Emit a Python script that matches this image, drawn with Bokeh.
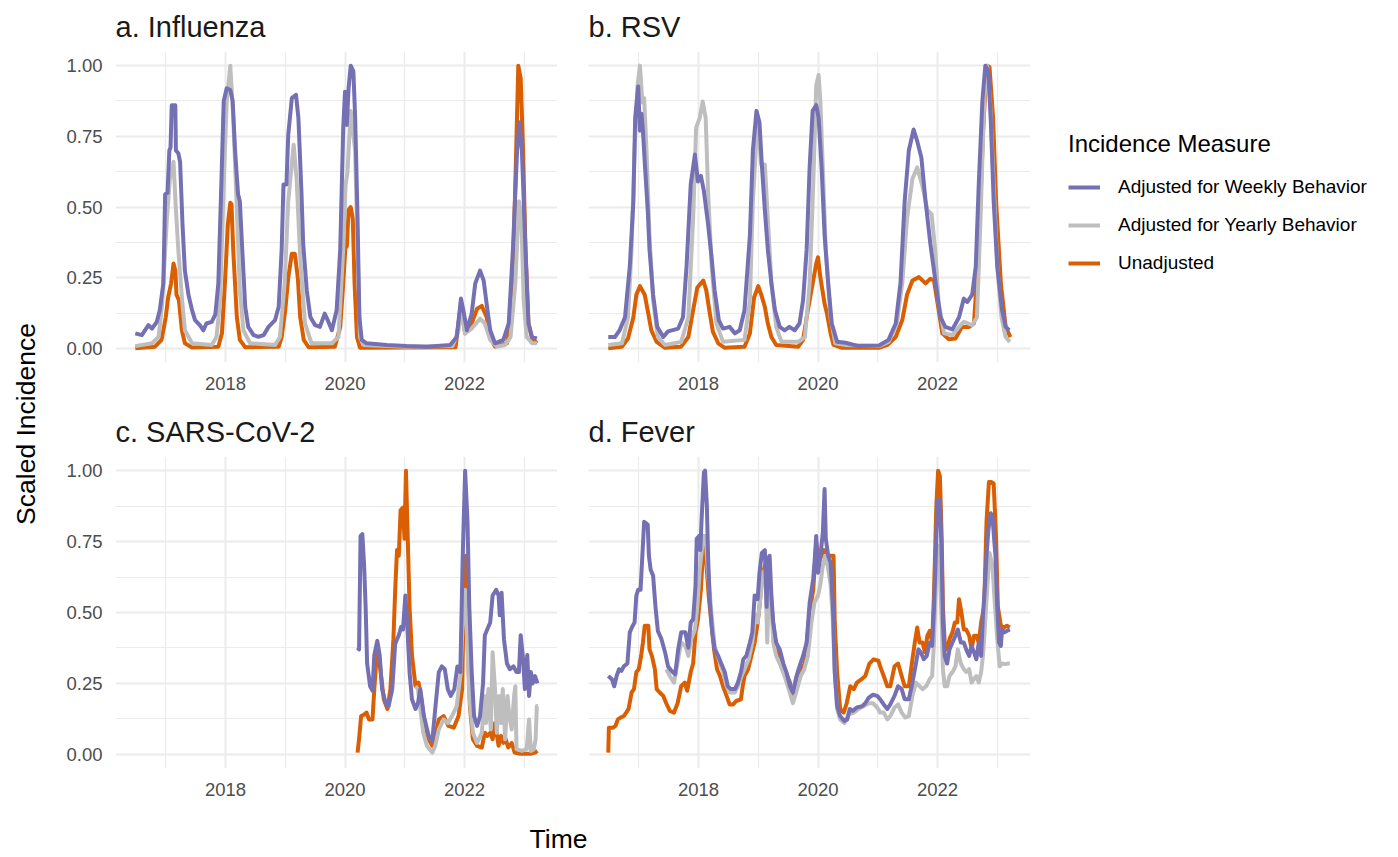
import math
from bokeh.plotting import figure
from bokeh.models import Range1d, FixedTicker, NumeralTickFormatter, Label, Legend, LegendItem
from bokeh.layouts import row, column
from bokeh.embed import file_html
from bokeh.resources import INLINE

FONT = "Liberation Sans"
C_WEEK = "#7570B3"
C_YEAR = "#BEBEBE"
C_UNADJ = "#D95F02"

panel_titles = ["a. Influenza", "b. RSV", "c. SARS-CoV-2", "d. Fever"]
series_labels = ["Adjusted for Weekly Behavior", "Adjusted for Yearly Behavior", "Unadjusted"]
x_ticks = [2018, 2020, 2022]
x_minor = [2017, 2019, 2021, 2023]
y_ticks = [0.0, 0.25, 0.5, 0.75, 1.0]
y_minor = [0.125, 0.375, 0.625, 0.875]

# ---------------- a. Influenza ----------------
flu_weekly = [(2016.49,0.053),(2016.60,0.047),(2016.71,0.082),(2016.77,0.070),(2016.85,0.094),(2016.90,0.135),(2016.96,0.23),(2016.99,0.545),(2017.03,0.55),(2017.06,0.70),(2017.08,0.71),(2017.10,0.86),(2017.16,0.86),(2017.17,0.70),(2017.21,0.69),(2017.24,0.66),(2017.28,0.44),(2017.32,0.275),(2017.38,0.19),(2017.44,0.135),(2017.49,0.10),(2017.57,0.082),(2017.63,0.064),(2017.68,0.088),(2017.77,0.094),(2017.83,0.12),(2017.88,0.23),(2017.93,0.58),(2017.97,0.875),(2018.02,0.92),(2018.08,0.914),(2018.12,0.875),(2018.16,0.70),(2018.21,0.545),(2018.24,0.52),(2018.28,0.35),(2018.33,0.147),(2018.38,0.076),(2018.47,0.047),(2018.55,0.041),(2018.64,0.047),(2018.72,0.076),(2018.83,0.10),(2018.89,0.147),(2018.94,0.35),(2018.97,0.58),(2019.02,0.58),(2019.05,0.755),(2019.11,0.885),(2019.18,0.897),(2019.22,0.815),(2019.27,0.557),(2019.30,0.37),(2019.36,0.205),(2019.42,0.111),(2019.50,0.082),(2019.58,0.076),(2019.66,0.123),(2019.71,0.10),(2019.78,0.064),(2019.86,0.135),(2019.92,0.35),(2019.97,0.78),(2020.00,0.908),(2020.03,0.79),(2020.06,0.92),(2020.095,1.0),(2020.14,0.98),(2020.17,0.815),(2020.21,0.46),(2020.24,0.11),(2020.28,0.03),(2020.36,0.018),(2020.70,0.012),(2021.03,0.008),(2021.37,0.006),(2021.76,0.012),(2021.87,0.04),(2021.94,0.176),(2021.98,0.135),(2022.04,0.064),(2022.12,0.123),(2022.18,0.23),(2022.26,0.275),(2022.32,0.24),(2022.37,0.158),(2022.43,0.064),(2022.51,0.018),(2022.65,0.03),(2022.74,0.088),(2022.81,0.35),(2022.88,0.70),(2022.92,0.80),(2022.96,0.70),(2023.02,0.35),(2023.07,0.088),(2023.13,0.04),(2023.21,0.035)]
flu_yearly = [(2016.49,0.008),(2016.77,0.018),(2016.88,0.04),(2016.94,0.158),(2017.02,0.46),(2017.07,0.60),(2017.13,0.66),(2017.17,0.49),(2017.21,0.35),(2017.27,0.18),(2017.32,0.064),(2017.44,0.018),(2017.77,0.012),(2017.85,0.04),(2017.91,0.17),(2017.97,0.58),(2018.02,0.87),(2018.08,1.0),(2018.13,0.815),(2018.19,0.49),(2018.24,0.205),(2018.30,0.064),(2018.41,0.018),(2018.83,0.012),(2018.91,0.04),(2018.99,0.23),(2019.05,0.52),(2019.14,0.72),(2019.19,0.60),(2019.25,0.32),(2019.33,0.088),(2019.44,0.018),(2019.78,0.018),(2019.89,0.04),(2019.97,0.35),(2020.01,0.58),(2020.04,0.62),(2020.095,0.84),(2020.17,0.70),(2020.21,0.35),(2020.25,0.04),(2020.31,0.012),(2021.00,0.006),(2021.80,0.008),(2021.90,0.064),(2021.94,0.135),(2022.01,0.053),(2022.12,0.07),(2022.26,0.105),(2022.34,0.088),(2022.43,0.03),(2022.54,0.006),(2022.68,0.012),(2022.77,0.04),(2022.85,0.23),(2022.91,0.52),(2022.95,0.47),(2022.99,0.17),(2023.04,0.04),(2023.13,0.018),(2023.21,0.018)]
flu_unadj = [(2016.49,0.0),(2016.82,0.006),(2016.93,0.03),(2017.00,0.11),(2017.04,0.18),(2017.09,0.23),(2017.13,0.30),(2017.16,0.275),(2017.18,0.19),(2017.22,0.17),(2017.27,0.064),(2017.32,0.018),(2017.44,0.003),(2017.88,0.006),(2017.94,0.053),(2017.99,0.23),(2018.04,0.44),(2018.08,0.515),(2018.10,0.51),(2018.13,0.345),(2018.19,0.11),(2018.24,0.03),(2018.33,0.004),(2018.89,0.006),(2018.94,0.04),(2019.00,0.135),(2019.05,0.25),(2019.11,0.335),(2019.16,0.335),(2019.21,0.25),(2019.25,0.11),(2019.31,0.03),(2019.39,0.004),(2019.83,0.006),(2019.92,0.076),(2019.97,0.23),(2020.01,0.37),(2020.03,0.36),(2020.06,0.49),(2020.095,0.50),(2020.13,0.46),(2020.16,0.23),(2020.20,0.04),(2020.25,0.002),(2021.85,0.004),(2021.94,0.158),(2022.01,0.053),(2022.12,0.088),(2022.21,0.14),(2022.29,0.15),(2022.37,0.11),(2022.43,0.04),(2022.51,0.006),(2022.71,0.018),(2022.79,0.11),(2022.85,0.58),(2022.90,1.0),(2022.94,0.955),(2022.98,0.70),(2023.02,0.35),(2023.07,0.088),(2023.13,0.035),(2023.21,0.018)]

# ---------------- b. RSV ----------------
rsv_weekly = [(2016.49,0.04),(2016.60,0.04),(2016.68,0.064),(2016.77,0.11),(2016.85,0.29),(2016.91,0.52),(2016.94,0.815),(2016.99,0.926),(2017.02,0.77),(2017.045,0.83),(2017.07,0.77),(2017.10,0.66),(2017.15,0.49),(2017.18,0.35),(2017.24,0.19),(2017.31,0.076),(2017.41,0.04),(2017.49,0.06),(2017.66,0.07),(2017.74,0.11),(2017.80,0.29),(2017.87,0.58),(2017.94,0.686),(2017.99,0.59),(2018.04,0.61),(2018.09,0.557),(2018.16,0.44),(2018.22,0.32),(2018.27,0.205),(2018.34,0.10),(2018.41,0.07),(2018.52,0.076),(2018.61,0.053),(2018.69,0.064),(2018.77,0.135),(2018.86,0.40),(2018.91,0.70),(2018.97,0.84),(2019.02,0.80),(2019.06,0.65),(2019.11,0.49),(2019.16,0.35),(2019.22,0.23),(2019.28,0.135),(2019.36,0.076),(2019.44,0.064),(2019.52,0.076),(2019.61,0.064),(2019.69,0.088),(2019.75,0.17),(2019.81,0.35),(2019.86,0.64),(2019.91,0.84),(2019.97,0.86),(2020.01,0.815),(2020.06,0.64),(2020.11,0.40),(2020.17,0.23),(2020.23,0.088),(2020.32,0.023),(2020.46,0.02),(2020.68,0.008),(2021.02,0.01),(2021.18,0.03),(2021.30,0.088),(2021.38,0.23),(2021.45,0.52),(2021.52,0.70),(2021.60,0.774),(2021.66,0.733),(2021.73,0.674),(2021.80,0.52),(2021.88,0.37),(2021.97,0.23),(2022.05,0.11),(2022.13,0.076),(2022.25,0.067),(2022.36,0.11),(2022.44,0.176),(2022.50,0.164),(2022.58,0.19),(2022.64,0.29),(2022.69,0.58),(2022.75,0.873),(2022.80,1.0),(2022.85,0.98),(2022.89,0.815),(2022.94,0.52),(2023.00,0.29),(2023.08,0.135),(2023.14,0.076),(2023.20,0.064)]
rsv_yearly = [(2016.49,0.012),(2016.72,0.018),(2016.82,0.11),(2016.88,0.35),(2016.93,0.70),(2016.98,0.93),(2017.02,1.0),(2017.06,0.87),(2017.09,0.885),(2017.13,0.70),(2017.18,0.40),(2017.24,0.17),(2017.32,0.04),(2017.44,0.012),(2017.71,0.023),(2017.83,0.11),(2017.91,0.46),(2017.96,0.78),(2018.02,0.815),(2018.07,0.873),(2018.12,0.815),(2018.16,0.557),(2018.22,0.29),(2018.30,0.088),(2018.41,0.023),(2018.77,0.03),(2018.86,0.17),(2018.91,0.52),(2018.99,0.815),(2019.05,0.65),(2019.11,0.65),(2019.16,0.46),(2019.22,0.23),(2019.30,0.076),(2019.39,0.023),(2019.67,0.023),(2019.78,0.04),(2019.86,0.23),(2019.92,0.58),(2019.97,0.93),(2020.01,0.967),(2020.04,0.87),(2020.08,0.64),(2020.13,0.35),(2020.21,0.11),(2020.29,0.018),(2020.46,0.012),(2021.02,0.008),(2021.18,0.023),(2021.32,0.088),(2021.41,0.23),(2021.49,0.46),(2021.58,0.60),(2021.66,0.64),(2021.74,0.58),(2021.83,0.49),(2021.90,0.475),(2021.96,0.35),(2022.02,0.158),(2022.11,0.053),(2022.25,0.047),(2022.36,0.076),(2022.44,0.094),(2022.58,0.082),(2022.66,0.11),(2022.72,0.46),(2022.78,0.873),(2022.83,1.0),(2022.88,0.87),(2022.94,0.58),(2023.00,0.29),(2023.07,0.11),(2023.14,0.04),(2023.21,0.023)]
rsv_unadj = [(2016.49,0.0),(2016.72,0.006),(2016.82,0.035),(2016.91,0.11),(2016.96,0.19),(2017.02,0.22),(2017.06,0.205),(2017.10,0.19),(2017.16,0.123),(2017.21,0.064),(2017.30,0.023),(2017.44,0.002),(2017.71,0.006),(2017.83,0.04),(2017.91,0.135),(2017.98,0.215),(2018.08,0.24),(2018.13,0.205),(2018.19,0.123),(2018.24,0.059),(2018.33,0.018),(2018.44,0.002),(2018.77,0.006),(2018.86,0.053),(2018.93,0.18),(2019.00,0.22),(2019.05,0.19),(2019.11,0.147),(2019.16,0.088),(2019.22,0.04),(2019.30,0.012),(2019.67,0.006),(2019.75,0.03),(2019.83,0.135),(2019.92,0.24),(2019.97,0.30),(2020.00,0.322),(2020.04,0.25),(2020.11,0.158),(2020.15,0.123),(2020.21,0.053),(2020.26,0.012),(2020.40,0.002),(2021.02,0.002),(2021.16,0.012),(2021.30,0.04),(2021.41,0.10),(2021.49,0.19),(2021.58,0.24),(2021.69,0.252),(2021.80,0.23),(2021.88,0.246),(2021.94,0.24),(2022.01,0.147),(2022.08,0.053),(2022.19,0.032),(2022.30,0.035),(2022.41,0.076),(2022.53,0.076),(2022.61,0.088),(2022.69,0.35),(2022.76,0.756),(2022.82,1.0),(2022.87,0.996),(2022.93,0.815),(2022.98,0.52),(2023.06,0.23),(2023.14,0.076),(2023.22,0.04)]

# ---------------- c. SARS-CoV-2 ----------------
cov_weekly = [(2020.21,0.376),(2020.235,0.37),(2020.26,0.77),(2020.29,0.776),(2020.32,0.665),(2020.345,0.52),(2020.37,0.32),(2020.42,0.24),(2020.46,0.224),(2020.49,0.35),(2020.54,0.40),(2020.58,0.35),(2020.62,0.23),(2020.68,0.18),(2020.73,0.17),(2020.79,0.23),(2020.84,0.39),(2020.90,0.42),(2020.94,0.45),(2020.97,0.44),(2021.01,0.56),(2021.04,0.465),(2021.08,0.29),(2021.12,0.194),(2021.18,0.16),(2021.22,0.18),(2021.26,0.23),(2021.32,0.135),(2021.40,0.065),(2021.46,0.047),(2021.51,0.16),(2021.57,0.29),(2021.62,0.31),(2021.67,0.30),(2021.72,0.23),(2021.77,0.206),(2021.83,0.23),(2021.88,0.31),(2021.93,0.29),(2021.97,0.70),(2022.01,1.0),(2022.05,0.82),(2022.08,0.52),(2022.12,0.29),(2022.16,0.135),(2022.21,0.10),(2022.26,0.135),(2022.31,0.25),(2022.34,0.42),(2022.38,0.44),(2022.43,0.465),(2022.47,0.56),(2022.53,0.58),(2022.57,0.56),(2022.59,0.49),(2022.62,0.57),(2022.66,0.406),(2022.71,0.32),(2022.76,0.30),(2022.82,0.31),(2022.87,0.29),(2022.91,0.29),(2022.94,0.42),(2022.98,0.335),(2023.01,0.23),(2023.05,0.35),(2023.08,0.206),(2023.11,0.29),(2023.14,0.25),(2023.18,0.276),(2023.22,0.25)]
cov_yearly = [(2021.18,0.24),(2021.22,0.23),(2021.26,0.16),(2021.31,0.076),(2021.37,0.03),(2021.46,0.006),(2021.51,0.03),(2021.57,0.088),(2021.65,0.123),(2021.72,0.11),(2021.79,0.135),(2021.87,0.17),(2021.93,0.276),(2021.97,0.465),(2022.01,0.58),(2022.04,0.44),(2022.08,0.206),(2022.14,0.076),(2022.21,0.04),(2022.29,0.076),(2022.33,0.206),(2022.36,0.11),(2022.40,0.23),(2022.44,0.088),(2022.47,0.36),(2022.51,0.23),(2022.54,0.076),(2022.58,0.206),(2022.61,0.11),(2022.64,0.23),(2022.68,0.053),(2022.72,0.206),(2022.75,0.135),(2022.79,0.088),(2022.83,0.206),(2022.85,0.24),(2022.87,0.018),(2022.96,0.012),(2023.04,0.018),(2023.08,0.123),(2023.11,0.012),(2023.16,0.018),(2023.19,0.053),(2023.21,0.17),(2023.225,0.17)]
cov_unadj = [(2020.21,0.006),(2020.235,0.053),(2020.27,0.135),(2020.32,0.14),(2020.36,0.147),(2020.40,0.123),(2020.46,0.123),(2020.49,0.23),(2020.54,0.38),(2020.59,0.30),(2020.65,0.194),(2020.71,0.16),(2020.76,0.23),(2020.81,0.406),(2020.84,0.58),(2020.87,0.72),(2020.90,0.70),(2020.93,0.86),(2020.97,0.87),(2020.995,0.76),(2021.02,1.0),(2021.05,0.76),(2021.08,0.52),(2021.12,0.35),(2021.18,0.24),(2021.23,0.253),(2021.27,0.206),(2021.33,0.11),(2021.40,0.053),(2021.46,0.03),(2021.51,0.065),(2021.57,0.123),(2021.65,0.135),(2021.73,0.10),(2021.82,0.094),(2021.90,0.135),(2021.96,0.23),(2021.99,0.58),(2022.02,0.70),(2022.05,0.406),(2022.09,0.17),(2022.14,0.053),(2022.21,0.03),(2022.29,0.024),(2022.34,0.076),(2022.38,0.065),(2022.43,0.076),(2022.47,0.053),(2022.51,0.11),(2022.57,0.03),(2022.61,0.065),(2022.65,0.04),(2022.69,0.053),(2022.73,0.024),(2022.79,0.04),(2022.84,0.006),(2022.93,0.002),(2023.10,0.002),(2023.18,0.006),(2023.22,0.012)]

# ---------------- d. Fever ----------------
fev_weekly = [(2016.49,0.276),(2016.55,0.265),(2016.59,0.24),(2016.63,0.276),(2016.67,0.30),(2016.71,0.294),(2016.75,0.31),(2016.81,0.32),(2016.85,0.43),(2016.89,0.45),(2016.93,0.465),(2016.96,0.56),(2016.99,0.58),(2017.03,0.58),(2017.06,0.70),(2017.09,0.82),(2017.15,0.81),(2017.17,0.70),(2017.20,0.65),(2017.24,0.63),(2017.28,0.52),(2017.32,0.435),(2017.38,0.406),(2017.44,0.36),(2017.49,0.31),(2017.55,0.294),(2017.61,0.282),(2017.66,0.37),(2017.71,0.43),(2017.78,0.43),(2017.83,0.376),(2017.87,0.465),(2017.91,0.476),(2017.95,0.594),(2017.97,0.76),(2018.01,0.77),(2018.03,0.72),(2018.05,0.82),(2018.09,0.994),(2018.11,1.0),(2018.14,0.876),(2018.16,0.70),(2018.19,0.535),(2018.23,0.43),(2018.27,0.37),(2018.33,0.347),(2018.38,0.32),(2018.44,0.29),(2018.49,0.24),(2018.54,0.23),(2018.61,0.23),(2018.66,0.253),(2018.71,0.29),(2018.75,0.335),(2018.80,0.347),(2018.86,0.394),(2018.90,0.43),(2018.94,0.56),(2018.99,0.547),(2019.02,0.64),(2019.06,0.71),(2019.11,0.72),(2019.14,0.52),(2019.16,0.69),(2019.19,0.70),(2019.22,0.56),(2019.25,0.465),(2019.30,0.394),(2019.36,0.37),(2019.42,0.32),(2019.47,0.29),(2019.53,0.24),(2019.58,0.218),(2019.64,0.276),(2019.69,0.31),(2019.75,0.347),(2019.81,0.394),(2019.86,0.535),(2019.92,0.62),(2019.95,0.70),(2019.97,0.77),(2020.00,0.64),(2020.04,0.70),(2020.08,0.78),(2020.11,0.935),(2020.13,0.76),(2020.17,0.70),(2020.21,0.676),(2020.25,0.52),(2020.28,0.29),(2020.32,0.17),(2020.37,0.135),(2020.44,0.118),(2020.49,0.123),(2020.53,0.16),(2020.58,0.153),(2020.65,0.165),(2020.74,0.17),(2020.79,0.18),(2020.85,0.20),(2020.92,0.21),(2020.99,0.206),(2021.04,0.194),(2021.10,0.176),(2021.16,0.16),(2021.21,0.176),(2021.28,0.206),(2021.34,0.24),(2021.40,0.23),(2021.45,0.194),(2021.52,0.194),(2021.58,0.253),(2021.63,0.31),(2021.68,0.37),(2021.72,0.36),(2021.77,0.335),(2021.82,0.347),(2021.87,0.394),(2021.91,0.382),(2021.94,0.51),(2021.98,0.76),(2022.00,0.894),(2022.04,0.90),(2022.07,0.70),(2022.09,0.465),(2022.12,0.347),(2022.16,0.32),(2022.20,0.37),(2022.25,0.394),(2022.30,0.418),(2022.34,0.44),(2022.39,0.394),(2022.44,0.394),(2022.48,0.37),(2022.53,0.347),(2022.57,0.382),(2022.61,0.36),(2022.65,0.335),(2022.69,0.394),(2022.73,0.347),(2022.76,0.49),(2022.79,0.58),(2022.82,0.70),(2022.85,0.79),(2022.89,0.85),(2022.92,0.84),(2022.94,0.78),(2022.97,0.70),(2023.00,0.52),(2023.03,0.394),(2023.06,0.382),(2023.08,0.44),(2023.12,0.43),(2023.16,0.435),(2023.21,0.44)]
fev_yearly = [(2017.46,0.30),(2017.52,0.276),(2017.59,0.253),(2017.66,0.335),(2017.71,0.394),(2017.78,0.382),(2017.83,0.347),(2017.88,0.406),(2017.94,0.44),(2017.98,0.52),(2018.02,0.65),(2018.08,0.77),(2018.12,0.77),(2018.16,0.64),(2018.22,0.49),(2018.27,0.382),(2018.34,0.335),(2018.41,0.29),(2018.47,0.24),(2018.52,0.218),(2018.61,0.218),(2018.66,0.24),(2018.72,0.276),(2018.77,0.30),(2018.84,0.335),(2018.90,0.394),(2018.95,0.49),(2018.99,0.465),(2019.04,0.56),(2019.08,0.64),(2019.12,0.65),(2019.15,0.394),(2019.18,0.60),(2019.21,0.58),(2019.25,0.394),(2019.30,0.347),(2019.36,0.32),(2019.44,0.276),(2019.51,0.23),(2019.58,0.18),(2019.65,0.23),(2019.71,0.276),(2019.77,0.30),(2019.83,0.347),(2019.89,0.465),(2019.94,0.535),(2020.00,0.56),(2020.04,0.60),(2020.08,0.665),(2020.12,0.70),(2020.16,0.665),(2020.21,0.60),(2020.25,0.465),(2020.28,0.29),(2020.32,0.16),(2020.37,0.123),(2020.44,0.11),(2020.51,0.14),(2020.60,0.147),(2020.68,0.16),(2020.77,0.17),(2020.85,0.18),(2020.92,0.18),(2020.99,0.165),(2021.04,0.147),(2021.10,0.147),(2021.16,0.123),(2021.21,0.135),(2021.28,0.165),(2021.34,0.176),(2021.40,0.147),(2021.46,0.13),(2021.52,0.135),(2021.58,0.206),(2021.64,0.253),(2021.70,0.24),(2021.75,0.23),(2021.81,0.24),(2021.87,0.265),(2021.91,0.276),(2021.94,0.394),(2021.98,0.64),(2022.01,0.735),(2022.04,0.64),(2022.07,0.465),(2022.09,0.30),(2022.12,0.24),(2022.16,0.24),(2022.20,0.276),(2022.25,0.29),(2022.30,0.31),(2022.34,0.37),(2022.39,0.32),(2022.44,0.30),(2022.48,0.29),(2022.53,0.30),(2022.57,0.253),(2022.61,0.265),(2022.65,0.276),(2022.69,0.253),(2022.73,0.29),(2022.76,0.347),(2022.79,0.44),(2022.83,0.58),(2022.87,0.71),(2022.92,0.665),(2022.95,0.56),(2023.00,0.406),(2023.04,0.31),(2023.08,0.32),(2023.13,0.318),(2023.18,0.32),(2023.21,0.32)]
fev_unadj = [(2016.49,0.006),(2016.50,0.094),(2016.57,0.094),(2016.61,0.10),(2016.65,0.123),(2016.70,0.13),(2016.75,0.135),(2016.79,0.147),(2016.83,0.16),(2016.88,0.218),(2016.92,0.23),(2016.96,0.29),(2017.00,0.30),(2017.04,0.347),(2017.07,0.394),(2017.10,0.453),(2017.16,0.453),(2017.18,0.37),(2017.22,0.347),(2017.27,0.30),(2017.30,0.23),(2017.35,0.218),(2017.41,0.206),(2017.46,0.18),(2017.52,0.153),(2017.59,0.147),(2017.65,0.18),(2017.71,0.24),(2017.77,0.253),(2017.81,0.224),(2017.87,0.29),(2017.91,0.32),(2017.95,0.43),(2017.99,0.476),(2018.04,0.58),(2018.08,0.735),(2018.10,0.747),(2018.13,0.676),(2018.17,0.56),(2018.22,0.453),(2018.26,0.37),(2018.31,0.30),(2018.36,0.276),(2018.41,0.24),(2018.47,0.206),(2018.52,0.176),(2018.58,0.176),(2018.63,0.188),(2018.71,0.194),(2018.74,0.24),(2018.77,0.276),(2018.83,0.30),(2018.90,0.36),(2018.94,0.394),(2018.99,0.465),(2019.02,0.52),(2019.06,0.62),(2019.11,0.665),(2019.16,0.665),(2019.22,0.52),(2019.28,0.406),(2019.36,0.347),(2019.44,0.30),(2019.53,0.253),(2019.58,0.206),(2019.64,0.253),(2019.72,0.30),(2019.78,0.32),(2019.86,0.50),(2019.92,0.58),(2019.97,0.747),(2020.01,0.68),(2020.06,0.70),(2020.10,0.72),(2020.14,0.70),(2020.18,0.70),(2020.26,0.70),(2020.28,0.465),(2020.32,0.29),(2020.37,0.16),(2020.43,0.147),(2020.48,0.18),(2020.54,0.24),(2020.60,0.23),(2020.65,0.253),(2020.73,0.265),(2020.79,0.276),(2020.86,0.32),(2020.93,0.335),(2021.01,0.33),(2021.04,0.31),(2021.10,0.276),(2021.16,0.24),(2021.21,0.24),(2021.28,0.31),(2021.34,0.32),(2021.40,0.276),(2021.45,0.24),(2021.52,0.24),(2021.58,0.335),(2021.62,0.394),(2021.66,0.447),(2021.70,0.394),(2021.75,0.394),(2021.79,0.36),(2021.83,0.418),(2021.87,0.435),(2021.91,0.394),(2021.94,0.56),(2021.98,0.876),(2022.01,1.0),(2022.04,0.98),(2022.07,0.76),(2022.09,0.52),(2022.12,0.394),(2022.16,0.37),(2022.20,0.406),(2022.25,0.43),(2022.29,0.465),(2022.33,0.465),(2022.36,0.547),(2022.40,0.50),(2022.44,0.44),(2022.48,0.44),(2022.53,0.418),(2022.57,0.37),(2022.61,0.418),(2022.65,0.418),(2022.69,0.394),(2022.73,0.465),(2022.78,0.52),(2022.82,0.82),(2022.86,0.96),(2022.90,0.96),(2022.94,0.955),(2022.98,0.76),(2023.01,0.52),(2023.06,0.453),(2023.11,0.447),(2023.16,0.453),(2023.21,0.447)]

panels = [
    (flu_weekly, flu_yearly, flu_unadj),
    (rsv_weekly, rsv_yearly, rsv_unadj),
    (cov_weekly, cov_yearly, cov_unadj),
    (fev_weekly, fev_yearly, fev_unadj),
]

X0, X1 = 2016.159, 2023.556
LW = 4
GRID = "#EBEBEB"
PAD = 8  # page margin of the reference


def make_panel(idx, width, height, left, top, bottom, show_y):
    p = figure(width=width, height=height, x_range=Range1d(X0, X1), y_range=Range1d(-0.05, 1.05),
               output_backend="svg", toolbar_location=None, title=panel_titles[idx],
               min_border_left=left, min_border_right=0, min_border_top=top, min_border_bottom=bottom)
    p.outline_line_color = None
    p.background_fill_color = "white"
    p.border_fill_color = "white"
    p.title.text_font = FONT
    p.title.text_font_size = "29px"
    p.title.text_font_style = "normal"
    p.title.text_color = "#1A1A1A"
    p.title.align = "left"
    p.title.standoff = 17
    xt = FixedTicker(ticks=x_ticks, minor_ticks=x_minor)
    yt = FixedTicker(ticks=y_ticks, minor_ticks=y_minor)
    p.xaxis.ticker = xt
    p.yaxis.ticker = yt
    p.xgrid.ticker = xt
    p.ygrid.ticker = yt
    p.yaxis.formatter = NumeralTickFormatter(format="0.00")
    for ax in (p.xaxis, p.yaxis):
        ax.axis_line_color = None
        ax.major_tick_line_color = None
        ax.minor_tick_line_color = None
        ax.major_label_text_font = FONT
        ax.major_label_text_font_size = "18.5px"
        ax.major_label_text_color = "#4D4D4D"
    p.xaxis.major_label_standoff = 8
    p.yaxis.major_label_standoff = 7
    if not show_y:
        p.yaxis.visible = False
    for g in (p.xgrid, p.ygrid):
        g.grid_line_color = GRID
        g.grid_line_width = 2
        g.minor_grid_line_color = GRID
        g.minor_grid_line_width = 1.2
    wk, yr, un = panels[idx]
    for data, col in ((un, C_UNADJ), (yr, C_YEAR), (wk, C_WEEK)):
        p.line([d[0] for d in data], [d[1] for d in data], line_color=col, line_width=LW,
               line_join="round")
    return p


H_PANEL = 312
ROW1_H = PAD + 42 + H_PANEL + 38
ROW2_H = 56 + H_PANEL + 37
fa = make_panel(0, 499, ROW1_H, 57, PAD + 42, 38, True)
fb = make_panel(1, 473, ROW1_H, 31, PAD + 42, 38, False)
fc = make_panel(2, 499, ROW2_H, 57, 56, 37, True)
fd = make_panel(3, 473, ROW2_H, 31, 56, 37, False)

TOTAL_H = ROW1_H + ROW2_H


def blank(width, height):
    p = figure(width=width, height=height, x_range=Range1d(0, width), y_range=Range1d(0, height),
               x_axis_type=None, y_axis_type=None, output_backend="svg", toolbar_location=None,
               min_border=0)
    p.outline_line_color = None
    p.grid.visible = False
    p.border_fill_color = "white"
    p.background_fill_color = "white"
    return p


YLAB_W = PAD + 50
ylab = blank(YLAB_W, TOTAL_H)
ylab.add_layout(Label(x=25, y=TOTAL_H - 350, text="Scaled Incidence", angle=math.pi / 2,
                      text_align="center", text_baseline="middle", text_font=FONT,
                      text_font_size="26.5px", text_color="#000000"))

# legend panel
LEG_W = 340
leg = figure(width=LEG_W, height=TOTAL_H, x_range=Range1d(0, 1), y_range=Range1d(0, 1),
             x_axis_type=None, y_axis_type=None, output_backend="svg", toolbar_location=None,
             min_border_left=38, min_border_top=130, min_border_right=0, min_border_bottom=0)
leg.outline_line_color = None
leg.grid.visible = False
leg.border_fill_color = "white"
leg.background_fill_color = "white"
items = []
# legend-key renderers: the influenza series, which lie outside this panel's 0..1 range
for lab, col, data in zip(series_labels, (C_WEEK, C_YEAR, C_UNADJ), panels[0]):
    r = leg.line([d[0] for d in data], [d[1] + 5 for d in data], line_color=col, line_width=LW)
    items.append(LegendItem(label=lab, renderers=[r]))
legend = Legend(items=items, location="top_left", title="Incidence Measure",
                margin=0, padding=0, border_line_color=None, background_fill_alpha=0,
                label_text_font=FONT, label_text_font_size="19px", label_text_color="#000000",
                title_text_font=FONT, title_text_font_size="24px", title_text_font_style="normal",
                title_text_color="#000000", title_standoff=18,
                glyph_width=32, glyph_height=20, label_height=20, label_standoff=18, spacing=16)
leg.add_layout(legend)

TIME_H = 50
timefig = blank(YLAB_W + 499 + 473 + LEG_W, TIME_H)
timefig.add_layout(Label(x=558, y=TIME_H - 33, text="Time", text_align="center", text_baseline="middle",
                         text_font=FONT, text_font_size="26.5px", text_color="#000000"))

layout = column(row(ylab, column(row(fa, fb), row(fc, fd)), leg), timefig)

open("out.html", "w").write(file_html(layout, INLINE))
